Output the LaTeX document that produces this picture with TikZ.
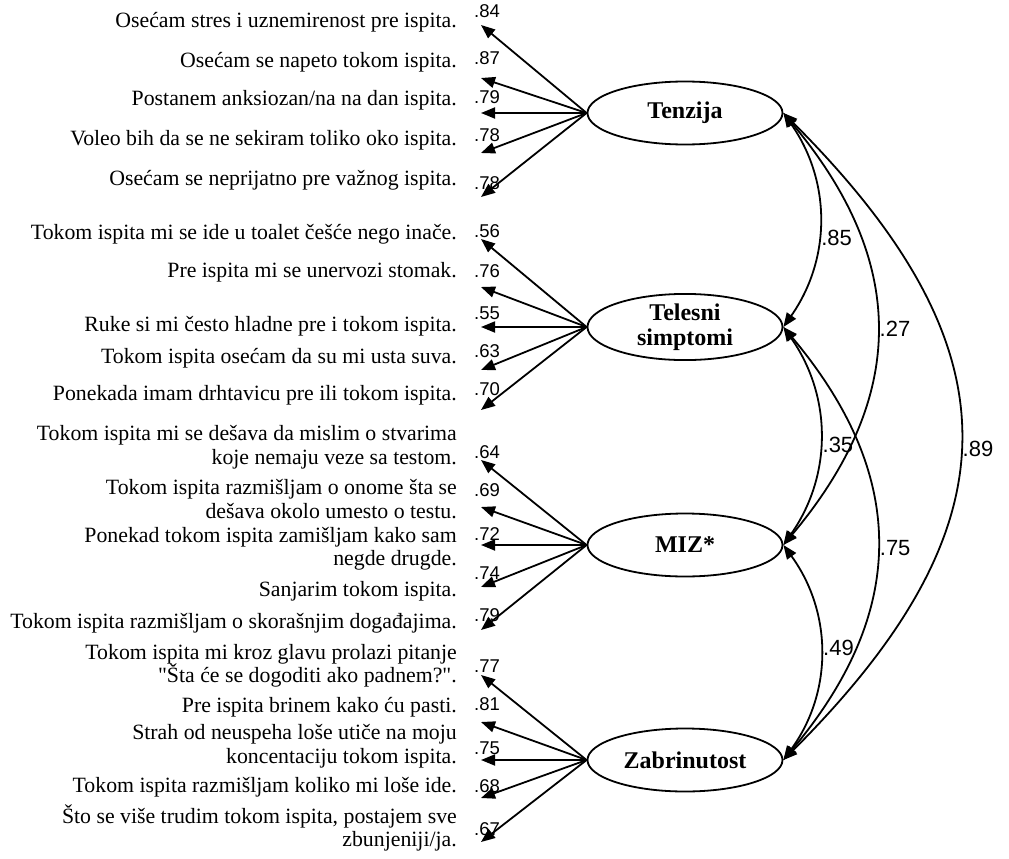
\documentclass[tikz,border=0pt]{standalone}
\usepackage{fontspec}
\setmainfont{Liberation Serif}[Ligatures=TeXOff]
\newfontfamily\arialfont{Liberation Sans}
\usetikzlibrary{shapes.geometric,arrows.meta}

\begin{document}
\begin{tikzpicture}[x=1pt, y=-1pt,
		latent/.style={draw, ellipse, line width=1.8pt, minimum width=195pt, minimum height=63pt, inner sep=0pt, align=center, font=\fontsize{24}{25}\selectfont\bfseries},
		item/.style={anchor=east, align=right, inner sep=0pt, font=\fontsize{21.8}{23.5}\selectfont},
		lab/.style={inner sep=0pt, font=\arialfont\fontsize{18.5}{18.5}\selectfont},
		covlab/.style={anchor=west, inner sep=2pt, font=\arialfont\fontsize{22}{22}\selectfont},
		load/.style={-{Triangle[length=14pt,width=11pt]}, line width=1.8pt},
		cov/.style={{Triangle[length=14pt,width=11pt]}-{Triangle[length=14pt,width=11pt]}, line width=1.8pt}]
	\useasboundingbox (0,0) rectangle (1009,859);

	% Faktori
	\draw (685,113) node[latent] (Tenz) {Tenzija};
	\draw (685,327) node[latent] (Tele) {Telesni\\simptomi};
	\draw (685,545) node[latent] (MIZ) {MIZ*};
	\draw (685,760) node[latent] (Zabr) {Zabrinutost};

	% Tenzija
	\draw (457,22) node[item] (t1) {Osećam stres i uznemirenost pre ispita.} (481,25) coordinate (t1p) (487,11) node[lab] (t1l) {.84};
	\draw (457,62) node[item] (t2) {Osećam se napeto tokom ispita.} (481,78) coordinate (t2p) (487,58) node[lab] (t2l) {.87};
	\draw (457,100) node[item] (t3) {Postanem anksiozan/na na dan ispita.} (481,113) coordinate (t3p) (487,97) node[lab] (t3l) {.79};
	\draw (457,140) node[item] (t4) {Voleo bih da se ne sekiram toliko oko ispita.} (481,153) coordinate (t4p) (487,135) node[lab] (t4l) {.78};
	\draw (457,180) node[item] (t5) {Osećam se neprijatno pre važnog ispita.} (481,197) coordinate (t5p) (487,183) node[lab] (t5l) {.78};

	% Telesni simptomi
	\draw (457,234) node[item] (s1) {Tokom ispita mi se ide u toalet češće nego inače.} (481,239) coordinate (s1p) (487,231) node[lab] (s1l) {.56};
	\draw (457,272) node[item] (s2) {Pre ispita mi se unervozi stomak.} (481,287) coordinate (s2p) (487,271) node[lab] (s2l) {.76};
	\draw (457,326) node[item] (s3) {Ruke si mi često hladne pre i tokom ispita.} (481,327) coordinate (s3p) (487,313) node[lab] (s3l) {.55};
	\draw (457,358) node[item] (s4) {Tokom ispita osećam da su mi usta suva.} (481,370) coordinate (s4p) (487,351) node[lab] (s4l) {.63};
	\draw (457,395) node[item] (s5) {Ponekada imam drhtavicu pre ili tokom ispita.} (481,410) coordinate (s5p) (487,389) node[lab] (s5l) {.70};

	% MIZ
	\draw (457,447) node[item] (m1) {Tokom ispita mi se dešava da mislim o stvarima\\koje nemaju veze sa testom.} (481,460) coordinate (m1p) (487,452) node[lab] (m1l) {.64};
	\draw (457,499) node[item] (m2) {Tokom ispita razmišljam o onome šta se\\dešava okolo umesto o testu.} (481,507) coordinate (m2p) (487,490) node[lab] (m2l) {.69};
	\draw (457,549) node[item] (m3) {Ponekad tokom ispita zamišljam kako sam\\negde drugde.} (481,545) coordinate (m3p) (487,534) node[lab] (m3l) {.72};
	\draw (457,591) node[item] (m4) {Sanjarim tokom ispita.} (481,587) coordinate (m4p) (487,573) node[lab] (m4l) {.74};
	\draw (457,623) node[item] (m5) {Tokom ispita razmišljam o skorašnjim događajima.} (481,630) coordinate (m5p) (487,615) node[lab] (m5l) {.79};

	% Zabrinutost
	\draw (457,666) node[item] (z1) {Tokom ispita mi kroz glavu prolazi pitanje\\"Šta će se dogoditi ako padnem?".} (481,675) coordinate (z1p) (487,666) node[lab] (z1l) {.77};
	\draw (457,707) node[item] (z2) {Pre ispita brinem kako ću pasti.} (481,722) coordinate (z2p) (487,704) node[lab] (z2l) {.81};
	\draw (457,746) node[item] (z3) {Strah od neuspeha loše utiče na moju\\koncentaciju tokom ispita.} (481,760) coordinate (z3p) (487,748) node[lab] (z3l) {.75};
	\draw (457,787) node[item] (z4) {Tokom ispita razmišljam koliko mi loše ide.} (481,798) coordinate (z4p) (487,786) node[lab] (z4l) {.68};
	\draw (457,828) node[item] (z5) {Što se više trudim tokom ispita, postajem sve\\zbunjeniji/ja.} (481,842) coordinate (z5p) (487,829) node[lab] (z5l) {.67};

	% Opterecenja
	\draw[load] (Tenz.west) -- (t1p);
	\draw[load] (Tenz.west) -- (t2p);
	\draw[load] (Tenz.west) -- (t3p);
	\draw[load] (Tenz.west) -- (t4p);
	\draw[load] (Tenz.west) -- (t5p);
	\draw[load] (Tele.west) -- (s1p);
	\draw[load] (Tele.west) -- (s2p);
	\draw[load] (Tele.west) -- (s3p);
	\draw[load] (Tele.west) -- (s4p);
	\draw[load] (Tele.west) -- (s5p);
	\draw[load] (MIZ.west) -- (m1p);
	\draw[load] (MIZ.west) -- (m2p);
	\draw[load] (MIZ.west) -- (m3p);
	\draw[load] (MIZ.west) -- (m4p);
	\draw[load] (MIZ.west) -- (m5p);
	\draw[load] (Zabr.west) -- (z1p);
	\draw[load] (Zabr.west) -- (z2p);
	\draw[load] (Zabr.west) -- (z3p);
	\draw[load] (Zabr.west) -- (z4p);
	\draw[load] (Zabr.west) -- (z5p);

	% Korelacije
	\draw[cov] (Tenz.east) to[bend left=35] node[covlab, pos=0.58] (c1) {.85} (Tele.east);
	\draw[cov] (Tenz.east) to[bend left=40, looseness=1.15] node[covlab] (c2) {.27} (MIZ.east);
	\draw[cov] (Tenz.east) to[bend left=45, looseness=1.32] node[covlab, pos=0.52] (c3) {.89} (Zabr.east);
	\draw[cov] (Tele.east) to[bend left=35] node[covlab, pos=0.54] (c4) {.35} (MIZ.east);
	\draw[cov] (Tele.east) to[bend left=40, looseness=1.15] node[covlab, pos=0.51] (c5) {.75} (Zabr.east);
	\draw[cov] (MIZ.east) to[bend left=36] node[covlab, pos=0.48] (c6) {.49} (Zabr.east);
\end{tikzpicture}
\end{document}
